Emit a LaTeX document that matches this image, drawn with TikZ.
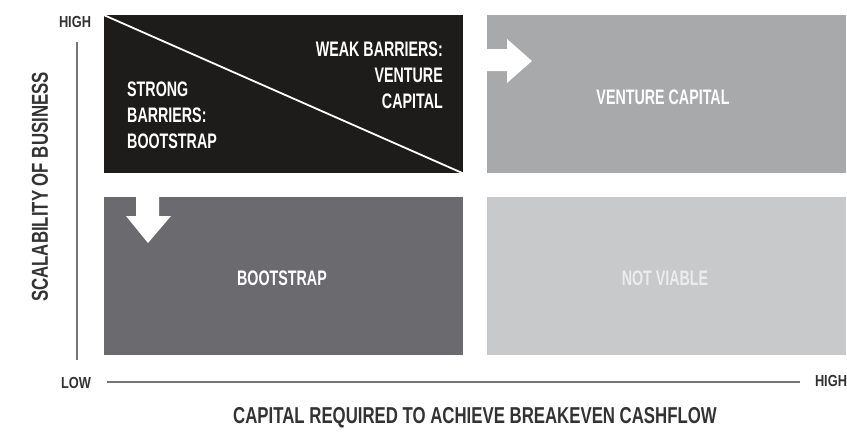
\documentclass[tikz,border=0pt]{standalone}
\usepackage{fontspec}
\newfontfamily\condA{Liberation Sans}[FakeStretch=0.68]
\newfontfamily\condB{Liberation Sans}[FakeStretch=0.73]
\newfontfamily\condC{Liberation Sans}[FakeStretch=0.80]
\definecolor{panelBlack}{HTML}{1E1B1B}
\definecolor{panelMid}{HTML}{A8A9AB}
\definecolor{panelDark}{HTML}{6B6B6F}
\definecolor{panelLight}{HTML}{C8C9CB}
\definecolor{axisGrey}{HTML}{757575}
\definecolor{labelInk}{HTML}{333333}
\definecolor{faintText}{HTML}{ECECEC}
\begin{document}
\begin{tikzpicture}[x=1pt,y=-1pt,
  quad/.style={draw=none, inner sep=0pt, minimum width=359pt, minimum height=158pt,
    text=white, font=\condA\bfseries\fontsize{21}{26}\selectfont},
  quadtext/.style={inner sep=0pt, text=white, font=\condA\bfseries\fontsize{21}{26}\selectfont},
  axislabel/.style={inner sep=0pt, text=labelInk, font=\condB\bfseries\fontsize{23}{26}\selectfont},
  ticklabel/.style={inner sep=0pt, text=labelInk, font=\condC\bfseries\fontsize{16}{18}\selectfont},
  axisline/.style={draw=axisGrey, line width=1.6pt},
  bigarrow/.style={fill=white, draw=none}]
\useasboundingbox (0,0) rectangle (847,439);

% four quadrants
\node[quad, fill=panelBlack] (bc) at (283,94) {};
\node[quad, fill=panelMid] (vc) at (666.5,94) {};
\node[quad, fill=panelDark] (bs) at (283,276) {};
\node[quad, fill=panelLight] (nv) at (666.5,276) {};

% split of the upper-left quadrant
\draw[white, line width=1.8pt] (bc.north west) -- (bc.south east);
\node[quadtext, align=right, anchor=north east] (weak) at (443,42) {WEAK BARRIERS:\\VENTURE\\CAPITAL};
\node[quadtext, align=left, anchor=north west] (strong) at (127,82) {STRONG\\BARRIERS:\\BOOTSTRAP};

% quadrant names
\node[quadtext] (vctext) at (663,97) {VENTURE CAPITAL};
\node[quadtext] (bstext) at (282,278) {BOOTSTRAP};
\node[quadtext, text=faintText] (nvtext) at (665,278) {NOT VIABLE};

% block arrows
\path[bigarrow] (484,49) -- (507,49) -- (507,39) -- (532,61) -- (507,83) -- (507,71) -- (484,71) -- cycle;
\path[bigarrow] (136,190) -- (159,190) -- (159,216) -- (171,216) -- (148,243) -- (126,216) -- (136,216) -- cycle;

% axes
\node[ticklabel] (yhigh) at (75,22) {HIGH};
\node[ticklabel] (xlow) at (76,383) {LOW};
\node[ticklabel] (xhigh) at (831,381) {HIGH};
\coordinate (ytop) at (77,42);
\coordinate (ybot) at (77,360);
\coordinate (xleft) at (107,382);
\coordinate (xright) at (800,382);
\draw[axisline] (ytop) -- (ybot);
\draw[axisline] (xleft) -- (xright);

\node[axislabel, rotate=90] (ylab) at (40,187) {SCALABILITY OF BUSINESS};
\node[axislabel] (xlab) at (475,418) {CAPITAL REQUIRED TO ACHIEVE BREAKEVEN CASHFLOW};
\end{tikzpicture}
\end{document}
